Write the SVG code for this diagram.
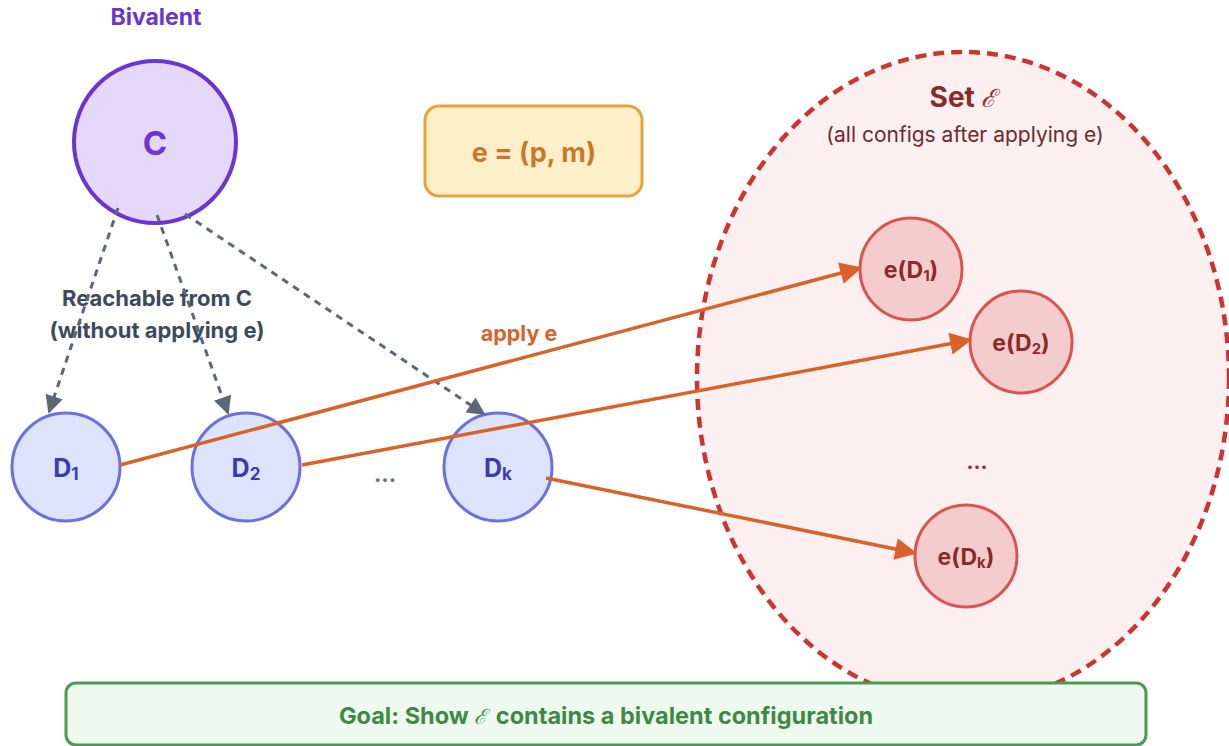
<svg xmlns="http://www.w3.org/2000/svg" width="1229" height="746" viewBox="0 0 1229 746">
<style>
text{font-family:Inter,"Liberation Sans",Arial,sans-serif;text-anchor:middle;}
.b{font-weight:bold;}
.dn{fill:#dde3fb;stroke:#6b6fe0;stroke-width:3;}
.dt{fill:#3b3bb0;font-size:25px;font-weight:bold;}
.en{fill:#f5cccc;stroke:#d9534f;stroke-width:3;}
.et{fill:#8b2a2a;font-size:23px;font-weight:bold;}
.gray{stroke:#5c6778;stroke-width:3;stroke-dasharray:7,6;fill:none;}
.or{stroke:#d9622b;stroke-width:3.5;fill:none;}
.scr{font-family:"DejaVu Serif",serif;font-style:italic;font-weight:normal;}
</style>
<defs>
<marker id="ag" viewBox="0 0 10 10" refX="9" refY="5" markerWidth="20" markerHeight="18" orient="auto" markerUnits="userSpaceOnUse">
<path d="M0,0 L10,5 L0,10 z" fill="#5c6778"/>
</marker>
<marker id="ao" viewBox="0 0 10 10" refX="9" refY="5" markerWidth="27" markerHeight="22" orient="auto" markerUnits="userSpaceOnUse">
<path d="M0,0 L10,5 L0,10 z" fill="#d9622b"/>
</marker>
</defs>
<rect width="1229" height="746" fill="#ffffff"/>
<g id="setE">
<ellipse cx="963" cy="378" rx="266" ry="326" fill="#fbefef" stroke="#cc3333" stroke-width="4.5" stroke-dasharray="11,7"/>
<text x="963" y="107" class="b" font-size="28" fill="#8b2a2a">Set <tspan class="scr" font-size="25">ℰ</tspan></text>
<text x="965" y="142" font-size="21" fill="#6e2a2a">(all configs after applying e)</text>
<text x="977" y="469" class="b" font-size="21" fill="#8b2a2a">...</text>
</g>
<g id="bivalent-label">
<text x="156" y="25" class="b" font-size="23" fill="#6a35d0">Bivalent</text>
</g>
<g id="C">
<circle cx="155" cy="142" r="81" fill="#e6d8fb" stroke="#6a35d0" stroke-width="4"/>
<text x="155" y="155" class="b" font-size="33" fill="#6a35d0">C</text>
</g>
<g id="event">
<rect x="425" y="106" width="217" height="90" rx="14" fill="#fdf0c8" stroke="#e8a33a" stroke-width="3"/>
<text x="534" y="162" class="b" font-size="27" fill="#c9782b">e = (p, m)</text>
</g>
<g id="D1">
<circle cx="66" cy="467" r="54" class="dn"/>
<text x="66" y="477" class="dt">D<tspan font-size="17" dy="3">1</tspan></text>
</g>
<g id="D2">
<circle cx="246" cy="467" r="54" class="dn"/>
<text x="246" y="477" class="dt">D<tspan font-size="17" dy="3">2</tspan></text>
</g>
<g id="dots-D">
<text x="385" y="482" class="b" font-size="22" fill="#6b7280">...</text>
</g>
<g id="Dk">
<circle cx="498" cy="467" r="54" class="dn"/>
<text x="498" y="477" class="dt">D<tspan font-size="17" dy="3">k</tspan></text>
</g>
<g id="eD1">
<circle cx="911" cy="269" r="51" class="en"/>
<text x="911" y="278" class="et">e(D<tspan font-size="15" dy="3">1</tspan><tspan dy="-3">)</tspan></text>
</g>
<g id="eD2">
<circle cx="1021" cy="342" r="51" class="en"/>
<text x="1021" y="351" class="et">e(D<tspan font-size="15" dy="3">2</tspan><tspan dy="-3">)</tspan></text>
</g>
<g id="eDk">
<circle cx="966" cy="556" r="51" class="en"/>
<text x="966" y="565" class="et">e(D<tspan font-size="15" dy="3">k</tspan><tspan dy="-3">)</tspan></text>
</g>
<g id="goal">
<rect x="66" y="683" width="1080" height="62" rx="10" fill="#eefaf0" stroke="#4a9a4f" stroke-width="3"/>
<text x="606" y="724" class="b" font-size="23.5" fill="#3f8a43">Goal: Show <tspan class="scr" font-size="21">ℰ</tspan><tspan dx="3"> contains a bivalent configuration</tspan></text>
</g>
<g id="labels">
<text x="157" y="306" class="b" font-size="22" fill="#3d4a5c">Reachable from C</text>
<text x="157" y="338" class="b" font-size="22" fill="#3d4a5c">(without applying e)</text>
<text x="519" y="341" class="b" font-size="21.5" fill="#d9622b">apply e</text>
</g>
<g id="connectors">
<line x1="118" y1="208" x2="49" y2="412" class="gray" marker-end="url(#ag)"/>
<line x1="157" y1="215" x2="228" y2="413" class="gray" marker-end="url(#ag)"/>
<line x1="185" y1="214" x2="484" y2="414" class="gray" marker-end="url(#ag)"/>
<line x1="120" y1="465" x2="860" y2="268" class="or" marker-end="url(#ao)"/>
<line x1="302" y1="465" x2="970" y2="340" class="or" marker-end="url(#ao)"/>
<line x1="546" y1="478" x2="915" y2="553" class="or" marker-end="url(#ao)"/>
</g>
</svg>
